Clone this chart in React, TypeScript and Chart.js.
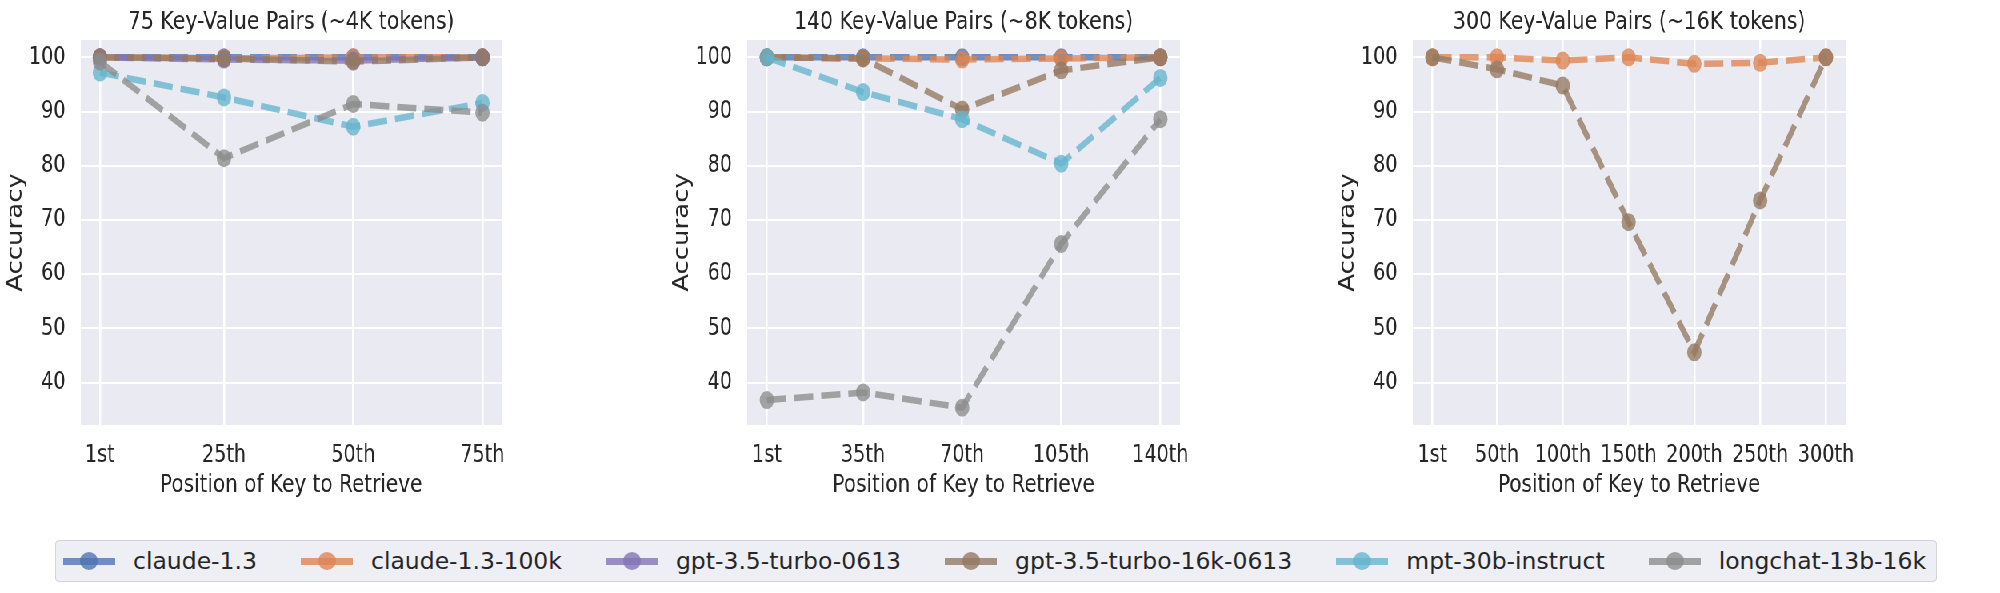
import React, { useEffect, useRef } from 'react';
import { Chart, registerables } from 'chart.js';

Chart.register(...registerables);

// ---------------- data ----------------
const MODELS = [
  'claude-1.3',
  'claude-1.3-100k',
  'gpt-3.5-turbo-0613',
  'gpt-3.5-turbo-16k-0613',
  'mpt-30b-instruct',
  'longchat-13b-16k',
];
const COLORS = ['#4C72B0', '#DD8452', '#8172B3', '#937860', '#64B5CD', '#8C8C8C'];

const kv75Title = '75 Key-Value Pairs (~4K tokens)';
const kv75Positions = [1, 25, 50, 75];
const kv75Labels = ['1st', '25th', '50th', '75th'];
const kv75Claude = [100, 100, 100, 100];
const kv75Claude100k = [100, 99.8, 100, 100];
const kv75Gpt35 = [100, 99.6, 99.4, 100];
const kv75Gpt35_16k = [100, 99.8, 99.2, 100];
const kv75Mpt = [97.2, 92.6, 87.2, 91.6];
const kv75Longchat = [99.2, 81.4, 91.4, 89.8];

const kv140Title = '140 Key-Value Pairs (~8K tokens)';
const kv140Positions = [1, 35, 70, 105, 140];
const kv140Labels = ['1st', '35th', '70th', '105th', '140th'];
const kv140Claude = [100, 100, 100, 100, 100];
const kv140Claude100k = [100, 99.8, 99.6, 99.8, 100];
const kv140Gpt35_16k = [100, 99.8, 90.4, 97.6, 100];
const kv140Mpt = [100, 93.6, 88.6, 80.4, 96.2];
const kv140Longchat = [36.8, 38.2, 35.4, 65.6, 88.6];

const kv300Title = '300 Key-Value Pairs (~16K tokens)';
const kv300Positions = [1, 50, 100, 150, 200, 250, 300];
const kv300Labels = ['1st', '50th', '100th', '150th', '200th', '250th', '300th'];
const kv300Claude100k = [100, 100, 99.4, 100, 98.8, 99.0, 100];
const kv300Gpt35_16k = [100, 97.8, 94.8, 69.6, 45.6, 73.6, 100];

const Y_TICKS = [40, 50, 60, 70, 80, 90, 100];
const Y_MIN = 32.2;
const Y_MAX = 103.2;

const PANELS = [
  {
    title: kv75Title,
    positions: kv75Positions,
    labels: kv75Labels,
    series: [kv75Claude, kv75Claude100k, kv75Gpt35, kv75Gpt35_16k, kv75Mpt, kv75Longchat],
  },
  {
    title: kv140Title,
    positions: kv140Positions,
    labels: kv140Labels,
    series: [kv140Claude, kv140Claude100k, null, kv140Gpt35_16k, kv140Mpt, kv140Longchat],
  },
  {
    title: kv300Title,
    positions: kv300Positions,
    labels: kv300Labels,
    series: [null, kv300Claude100k, null, kv300Gpt35_16k, null, null],
  },
];

// ---------------- style ----------------
const FONT = "'DejaVu Sans', 'Noto Sans', sans-serif";
const TEXT = '#262626';
const BG = '#EAEAF2';
const ALPHA = 0.78;
const SX = 0.8; // horizontal squeeze of the reference figure
const DASH_OFFSETS = [16, 0, 16, 0, 0, 0];
const PANEL_BOXES = [
  { left: 0, width: 667 },
  { left: 833, width: 682 },
  { left: 1665, width: 682 },
];

function rgba(hex: string, a: number) {
  const n = parseInt(hex.slice(1), 16);
  return `rgba(${(n >> 16) & 255},${(n >> 8) & 255},${n & 255},${a})`;
}

const bgPlugin = {
  id: 'plotBg',
  beforeDraw(chart: any) {
    const { ctx, chartArea } = chart;
    if (!chartArea) return;
    ctx.save();
    ctx.fillStyle = BG;
    ctx.fillRect(chartArea.left, chartArea.top, chartArea.right - chartArea.left, chartArea.bottom - chartArea.top);
    ctx.restore();
  },
};

function PanelChart({ panel, box }: { panel: any; box: { left: number; width: number } }) {
  const ref = useRef<HTMLCanvasElement>(null);
  useEffect(() => {
    const canvas = ref.current;
    if (!canvas) return;
    const span = panel.positions[panel.positions.length - 1] - panel.positions[0];
    const xMin = panel.positions[0] - span * 0.05;
    const xMax = panel.positions[panel.positions.length - 1] + span * 0.05;
    const labelOf = (v: number) => {
      const k = panel.positions.indexOf(v);
      return k >= 0 ? panel.labels[k] : '';
    };
    const chart = new Chart(canvas, {
      type: 'line',
      data: {
        datasets: MODELS.map((name, i) => {
          const vals = panel.series[i];
          const col = rgba(COLORS[i], ALPHA);
          return {
            label: name,
            data: vals ? panel.positions.map((x: number, j: number) => ({ x, y: vals[j] })) : [],
            borderColor: col,
            backgroundColor: col,
            pointBackgroundColor: col,
            pointBorderColor: col,
            pointBorderWidth: 0,
            pointRadius: 9,
            borderWidth: 6.5,
            borderDash: [24, 10],
            borderDashOffset: DASH_OFFSETS[i],
            tension: 0,
            fill: false,
            order: MODELS.length - i,
          };
        }),
      },
      options: {
        animation: false,
        responsive: false,
        maintainAspectRatio: false,
        devicePixelRatio: 1,
        layout: { padding: { top: 6.6, left: 0, right: 40, bottom: 0 } },
        plugins: {
          legend: { display: false },
          tooltip: { enabled: false },
          title: {
            display: true,
            text: panel.title,
            fullSize: false,
            color: TEXT,
            font: { family: FONT, size: 25.5, weight: 'normal' },
            padding: { top: 0, bottom: 2.8 },
          },
        },
        scales: {
          x: {
            type: 'linear',
            min: xMin,
            max: xMax,
            afterBuildTicks: (s: any) => {
              s.ticks = panel.positions.map((v: number) => ({ value: v }));
            },
            afterFit: (s: any) => {
              s.height = 75;
            },
            ticks: {
              callback: (v: any) => labelOf(Number(v)),
              color: TEXT,
              font: { family: FONT, size: 24 },
              padding: 16,
              autoSkip: false,
              maxRotation: 0,
              minRotation: 0,
            },
            grid: { color: '#ffffff', lineWidth: 2.5, drawTicks: false },
            border: { display: false },
            title: {
              display: true,
              text: 'Position of Key to Retrieve',
              color: TEXT,
              font: { family: FONT, size: 25 },
              padding: { top: 0, bottom: 0 },
            },
          },
          y: {
            type: 'linear',
            min: Y_MIN,
            max: Y_MAX,
            afterBuildTicks: (s: any) => {
              s.ticks = Y_TICKS.map((v) => ({ value: v }));
            },
            afterFit: (s: any) => {
              s.width = 101;
            },
            ticks: {
              color: TEXT,
              font: { family: FONT, size: 24 },
              padding: 19,
            },
            grid: { color: '#ffffff', lineWidth: 2, drawTicks: false },
            border: { display: false },
            title: {
              display: true,
              text: 'Accuracy',
              color: TEXT,
              font: { family: FONT, size: 26 },
              padding: { top: 5, bottom: 0 },
            },
          },
        },
      } as any,
      plugins: [bgPlugin],
    });
    return () => chart.destroy();
  }, [panel]);
  return (
    <canvas
      ref={ref}
      width={box.width}
      height={500}
      style={{ position: 'absolute', left: box.left, top: 0 }}
    />
  );
}

function Legend() {
  return (
    <div
      style={{
        position: 'absolute',
        left: 55,
        top: 540,
        height: 42,
        boxSizing: 'border-box',
        border: '1px solid #d3d3d8',
        borderRadius: 4,
        background: 'rgba(234,234,242,0.8)',
        display: 'flex',
        alignItems: 'center',
        paddingLeft: 7,
        paddingRight: 10,
        fontFamily: FONT,
        fontSize: 23.5,
        color: TEXT,
        whiteSpace: 'nowrap',
      }}
    >
      {MODELS.map((m, i) => {
        const col = rgba(COLORS[i], ALPHA);
        return (
          <div key={m} style={{ display: 'flex', alignItems: 'center', marginLeft: i ? 44 : 0 }}>
            <div style={{ position: 'relative', width: 52, height: 20, marginRight: 18 }}>
              <div style={{ position: 'absolute', left: 0, top: 6.5, width: 52, height: 7, background: col }} />
              <div
                style={{
                  position: 'absolute',
                  left: 17,
                  top: 1,
                  width: 18,
                  height: 18,
                  borderRadius: '50%',
                  background: col,
                }}
              />
            </div>
            <span>{m}</span>
          </div>
        );
      })}
    </div>
  );
}

export default function App() {
  return (
    <div
      style={{
        position: 'fixed',
        left: 0,
        top: 0,
        width: 2000,
        height: 593,
        overflow: 'hidden',
        background: '#ffffff',
      }}
    >
      <div
        style={{
          position: 'absolute',
          left: 0,
          top: 0,
          width: 2500,
          height: 500,
          transform: `scaleX(${SX})`,
          transformOrigin: '0 0',
        }}
      >
        {PANELS.map((p, i) => (
          <PanelChart key={i} panel={p} box={PANEL_BOXES[i]} />
        ))}
      </div>
      <Legend />
    </div>
  );
}
